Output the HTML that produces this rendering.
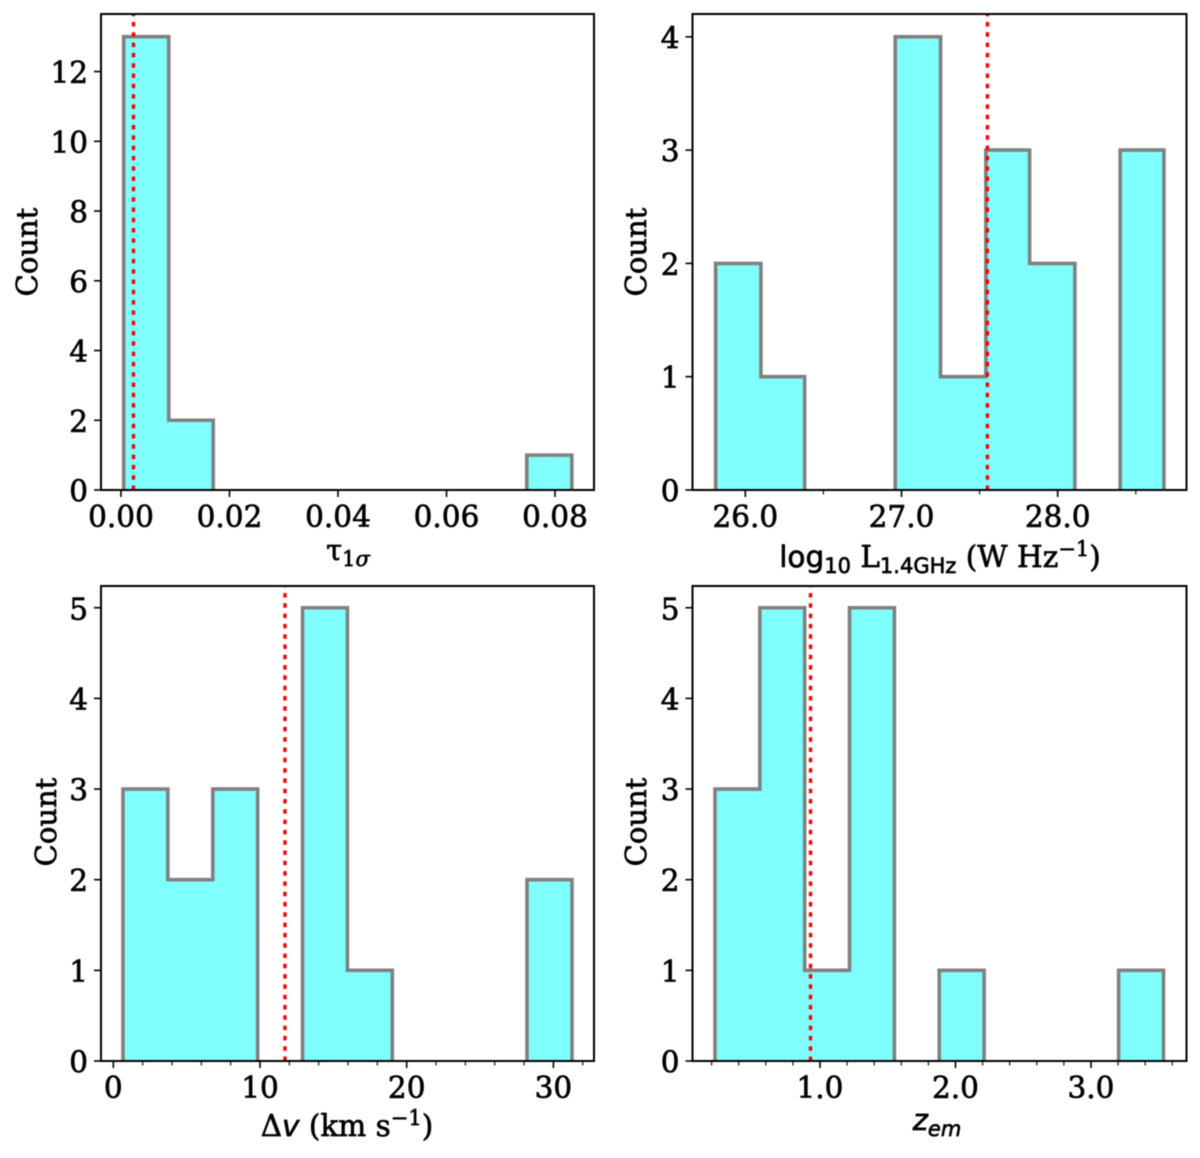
<!DOCTYPE html>
<html lang="en">
<head>
<meta charset="utf-8">
<title>Histograms</title>
<style>
html,body{margin:0;padding:0;background:#fff;width:1200px;height:1158px;overflow:hidden}
svg{display:block;filter:blur(0.55px)}
text{font-family:"DejaVu Serif","Liberation Serif",serif;fill:#000;stroke:#000;stroke-width:.65px}
.sans{font-family:"DejaVu Sans","Liberation Sans",sans-serif}
</style>
</head>
<body>
<svg id="chart" xmlns="http://www.w3.org/2000/svg" width="1200" height="1158" viewBox="0 0 1200 1158">
  <text font-size="29" text-anchor="middle" transform="translate(37 252) rotate(-90)">Count</text>
  <text font-size="29" text-anchor="middle" transform="translate(646 252) rotate(-90)">Count</text>
  <text font-size="29" text-anchor="middle" transform="translate(56 822) rotate(-90)">Count</text>
  <text font-size="29" text-anchor="middle" transform="translate(646 822) rotate(-90)">Count</text>

  <text x="348" y="560" font-size="29" text-anchor="middle">τ<tspan font-size="21" dy="6">1</tspan><tspan font-size="21" font-style="italic">σ</tspan></text>
  <text x="940" y="567" font-size="29.5" text-anchor="middle"><tspan class="sans">log</tspan><tspan class="sans" font-size="21" dy="6">10</tspan><tspan dy="-6"> L</tspan><tspan class="sans" font-size="21" dy="6">1.4GHz</tspan><tspan dy="-6"> (W Hz</tspan><tspan font-size="21" dy="-11">−1</tspan><tspan dy="11">)</tspan></text>
  <text x="347" y="1136" font-size="29.5" text-anchor="middle">Δ<tspan class="sans" font-style="italic">v</tspan> (km s<tspan font-size="21" dy="-11">−1</tspan><tspan dy="11">)</tspan></text>
  <text x="937" y="1130" font-size="29" text-anchor="middle"><tspan class="sans" font-style="italic">z</tspan><tspan class="sans" font-style="italic" font-size="21" dy="6">em</tspan></text>
</svg>
<script>
// Panel 1: optical depth
const tauEdges = [0.0005,0.0088,0.0170,0.0253,0.0335,0.0418,0.0501,0.0583,0.0666,0.0748,0.0831];
const tauCounts = [13,2,0,0,0,0,0,0,0,1];
const tauMedian = 0.0023;
const tauXTicks = [0,0.02,0.04,0.06,0.08];
const tauXLabels = ["0.00","0.02","0.04","0.06","0.08"];
const tauXMinor = [];
const tauYTicks = [0,2,4,6,8,10,12];

// Panel 2: radio luminosity
const lumEdges = [25.81,26.10,26.38,26.67,26.96,27.25,27.54,27.82,28.11,28.40,28.68];
const lumCounts = [2,1,0,0,4,1,3,2,0,3];
const lumMedian = 27.55;
const lumXTicks = [26,27,28];
const lumXLabels = ["26.0","27.0","28.0"];
const lumXMinor = [26.5,27.5,28.5];
const lumYTicks = [0,1,2,3,4];

// Panel 3: velocity width
const velEdges = [0.66,3.72,6.78,9.84,12.90,15.96,19.02,22.08,25.14,28.20,31.27];
const velCounts = [3,2,3,0,5,1,0,0,0,2];
const velMedian = 11.7;
const velXTicks = [0,10,20,30];
const velXLabels = ["0","10","20","30"];
const velXMinor = [2,4,6,8,12,14,16,18,22,24,26,28,32];
const velYTicks = [0,1,2,3,4,5];

// Panel 4: emission redshift
const zEdges = [0.225,0.556,0.887,1.218,1.549,1.88,2.211,2.542,2.873,3.204,3.535];
const zCounts = [3,5,1,5,0,1,0,0,0,1];
const zMedian = 0.93;
const zXTicks = [1,2,3];
const zXLabels = ["1.0","2.0","3.0"];
const zXMinor = [0.2,0.4,0.6,0.8,1.2,1.4,1.6,1.8,2.2,2.4,2.6,2.8,3.2,3.4,3.6];
const zYTicks = [0,1,2,3,4,5];

const NS = 'http://www.w3.org/2000/svg';
const svg = document.getElementById('chart');

function make(tag, attrs, parent) {
  const el = document.createElementNS(NS, tag);
  for (const k in attrs) el.setAttribute(k, attrs[k]);
  parent.appendChild(el);
  return el;
}

function drawPanel(p) {
  const x = v => p.x0 + (v - p.xRef) * p.xScale;
  const y = v => p.bottom - v * p.yScale;

  const g = make('g', {}, svg);
  
  

  // one filled, outlined shape per run of non-empty bins; empty bins get no baseline stroke
  let fillPath = '';
  let strokePath = '';
  let i = 0;
  while (i < p.counts.length) {
    if (p.counts[i] === 0) { i++; continue; }
    let seg = 'M' + x(p.edges[i]) + ' ' + y(0);
    while (i < p.counts.length && p.counts[i] !== 0) {
      seg += ' L' + x(p.edges[i]) + ' ' + y(p.counts[i]) + ' L' + x(p.edges[i + 1]) + ' ' + y(p.counts[i]);
      i++;
    }
    seg += ' L' + x(p.edges[i]) + ' ' + y(0);
    strokePath += seg + ' ';
    fillPath += seg + ' Z ';
  }
  const histFill = make('path', {d: fillPath, fill: '#80ffff', stroke: 'none'}, g);
  
  
  const hist = make('path', {d: strokePath, fill: 'none', stroke: '#808080', 'stroke-width': 3.6, 'stroke-linejoin': 'miter'}, g);
  
  

  // median line, dashed from the bottom up
  const med = make('line', {
    x1: x(p.median), x2: x(p.median), y1: p.bottom, y2: p.top,
    stroke: '#ff0000', 'stroke-width': 3.4, 'stroke-dasharray': '4.5 5.8'
  }, g);
  
  

  // axis frame
  const frame = make('rect', {
    x: p.left, y: p.top, width: p.right - p.left, height: p.bottom - p.top,
    fill: 'none', stroke: '#000', 'stroke-width': 2
  }, g);
  
  

  // x ticks
  p.xTicks.forEach((v, k) => {
    const t = make('line', {x1: x(v), x2: x(v), y1: p.bottom, y2: p.bottom + 7, stroke: '#000', 'stroke-width': 1.6}, g);
    
    
    const l = make('text', {x: x(v), y: p.bottom + 37, 'font-size': 29.5, 'text-anchor': 'middle'}, g);
    l.textContent = p.xLabels[k];
    
    
  });
  p.xMinor.forEach(v => {
    const t = make('line', {x1: x(v), x2: x(v), y1: p.bottom, y2: p.bottom + 4.5, stroke: '#000', 'stroke-width': 1.1}, g);
    
    
  });

  // y ticks
  p.yTicks.forEach(v => {
    const t = make('line', {x1: p.left - 7, x2: p.left, y1: y(v), y2: y(v), stroke: '#000', 'stroke-width': 1.6}, g);
    
    
    const l = make('text', {x: p.left - 13, y: y(v) + 11.5, 'font-size': 29.5, 'text-anchor': 'end'}, g);
    l.textContent = String(v);
    
    
  });
}

drawPanel({name: 'tau', left: 101, right: 594, top: 14, bottom: 490,
  x0: 121, xRef: 0, xScale: 5425, yScale: 34.87,
  edges: tauEdges, counts: tauCounts, median: tauMedian,
  xTicks: tauXTicks, xLabels: tauXLabels, xMinor: tauXMinor, yTicks: tauYTicks});

drawPanel({name: 'luminosity', left: 692.5, right: 1186.5, top: 14, bottom: 490,
  x0: 745.3, xRef: 26, xScale: 156.2, yScale: 113.3,
  edges: lumEdges, counts: lumCounts, median: lumMedian,
  xTicks: lumXTicks, xLabels: lumXLabels, xMinor: lumXMinor, yTicks: lumYTicks});

drawPanel({name: 'velocity', left: 101, right: 594, top: 586, bottom: 1061,
  x0: 113.3, xRef: 0, xScale: 14.67, yScale: 90.65,
  edges: velEdges, counts: velCounts, median: velMedian,
  xTicks: velXTicks, xLabels: velXLabels, xMinor: velXMinor, yTicks: velYTicks});

drawPanel({name: 'redshift', left: 692.5, right: 1186.5, top: 586, bottom: 1061,
  x0: 820, xRef: 1, xScale: 135.5, yScale: 90.65,
  edges: zEdges, counts: zCounts, median: zMedian,
  xTicks: zXTicks, xLabels: zXLabels, xMinor: zXMinor, yTicks: zYTicks});
</script>
</body>
</html>
